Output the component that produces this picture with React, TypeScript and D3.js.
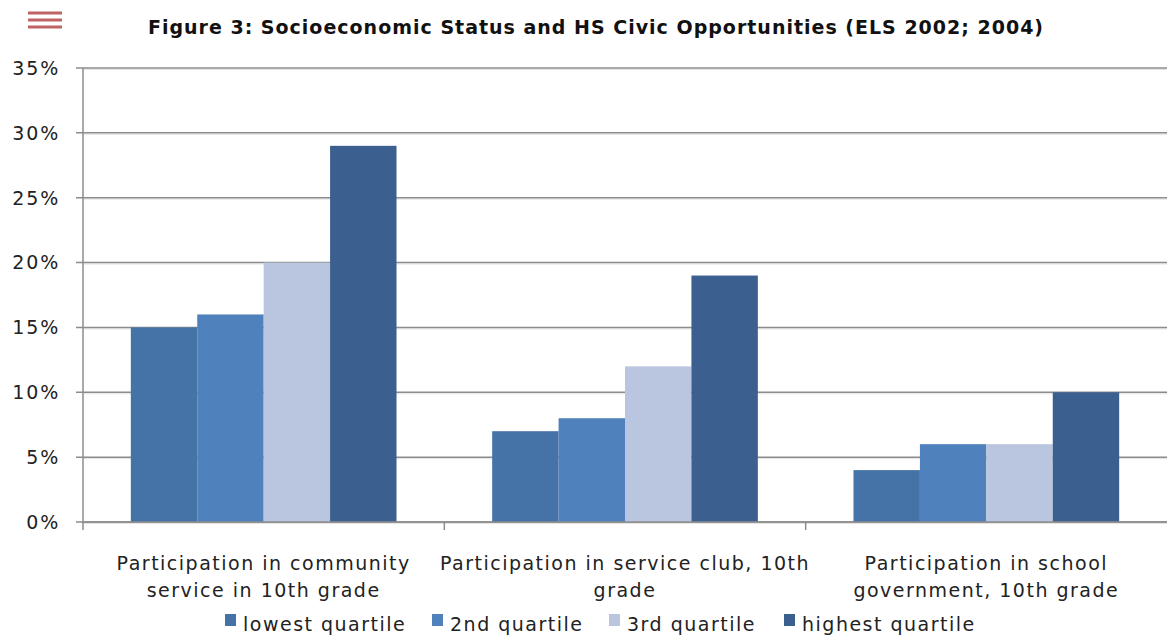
import * as d3 from 'd3';

const categories = [
  ['Participation in community', 'service in 10th grade'],
  ['Participation in service club, 10th', 'grade'],
  ['Participation in school', 'government, 10th grade'],
];
const seriesNames = ['lowest quartile', '2nd quartile', '3rd quartile', 'highest quartile'];
const seriesColors = ['#4572a7', '#4f81bd', '#bac6df', '#3b5f8e'];
// values in percent, one array per quartile, indexed by category
const lowest = [15, 7, 4];
const second = [16, 8, 6];
const third = [20, 12, 6];
const highest = [29, 19, 10];
const yTicks = [0, 5, 10, 15, 20, 25, 30, 35];

const W = 1167;
const H = 637;
const PLOT = { left: 83, right: 1167, top: 68, bottom: 522 };
const FONT = 'DejaVu Sans, Verdana, sans-serif';
const AXIS = '#8c8c8c';

export default function App() {
  const series = [lowest, second, third, highest];

  const y = d3.scaleLinear().domain([0, 35]).range([PLOT.bottom, PLOT.top]);
  const x0 = d3
    .scaleBand<number>()
    .domain(d3.range(categories.length))
    .range([PLOT.left, PLOT.right])
    .padding(0);
  const x1 = d3
    .scaleBand<number>()
    .domain(d3.range(seriesNames.length))
    .range([0, x0.bandwidth()])
    .paddingInner(0)
    .paddingOuter(0.72);

  // legend swatch x positions
  const legendX = [225, 432, 609, 784];

  return (
    <svg
      width={W}
      height={H}
      style={{ position: 'absolute', left: 0, top: 0, background: '#fff' }}
      fontFamily={FONT}
    >
      {/* menu icon */}
      {[13, 20, 27].map((yy) => (
        <line key={yy} x1={28} x2={62} y1={yy} y2={yy} stroke="#b44a48" strokeWidth={3} opacity={0.85} />
      ))}

      {/* title */}
      <text x={596} y={34} textAnchor="middle" fontSize={19} fontWeight="bold" fill="#111" letterSpacing={1.0}>
        Figure 3: Socioeconomic Status and HS Civic Opportunities (ELS 2002; 2004)
      </text>

      {/* gridlines + y labels */}
      {yTicks.map((t) => (
        <g key={t}>
          <line x1={PLOT.left} x2={PLOT.right} y1={y(t) + 1.5} y2={y(t) + 1.5} stroke="#e4e4e4" strokeWidth={1} />
          <line x1={76} x2={PLOT.right} y1={y(t)} y2={y(t)} stroke={AXIS} strokeWidth={1.5} />
          <text
            x={60}
            y={y(t)}
            dy="0.36em"
            textAnchor="end"
            fontSize={19}
            fill="#222"
            letterSpacing={1.8}
          >
            {t}%
          </text>
        </g>
      ))}

      {/* bars */}
      {categories.map((_, ci) => (
        <g key={ci} transform={`translate(${x0(ci)},0)`}>
          {series.map((vals, si) => (
            <rect
              key={si}
              x={x1(si)}
              y={y(vals[ci])}
              width={x1.bandwidth()}
              height={y(0) - y(vals[ci])}
              fill={seriesColors[si]}
            />
          ))}
        </g>
      ))}

      {/* axes */}
      <line x1={PLOT.left} x2={PLOT.left} y1={PLOT.top} y2={530} stroke={AXIS} strokeWidth={1.5} />
      <line x1={PLOT.left} x2={PLOT.right} y1={PLOT.bottom} y2={PLOT.bottom} stroke={AXIS} strokeWidth={1.5} />
      {d3.range(1, categories.length).map((i) => (
        <line key={i} x1={x0(i)} x2={x0(i)} y1={PLOT.bottom} y2={530} stroke={AXIS} strokeWidth={1.5} />
      ))}

      {/* category labels */}
      {categories.map((lines, ci) => (
        <text
          key={ci}
          x={(x0(ci) ?? 0) + x0.bandwidth() / 2}
          y={570}
          textAnchor="middle"
          fontSize={19}
          fill="#222"
          letterSpacing={1.5}
        >
          {lines.map((ln, li) => (
            <tspan key={li} x={(x0(ci) ?? 0) + x0.bandwidth() / 2} dy={li === 0 ? 0 : 27}>
              {ln}
            </tspan>
          ))}
        </text>
      ))}

      {/* legend */}
      {seriesNames.map((name, si) => (
        <g key={name}>
          <rect x={legendX[si]} y={614} width={11} height={12} fill={seriesColors[si]} />
          <text x={legendX[si] + 18} y={631} fontSize={19} fill="#222" letterSpacing={1.5}>
            {name}
          </text>
        </g>
      ))}
    </svg>
  );
}
